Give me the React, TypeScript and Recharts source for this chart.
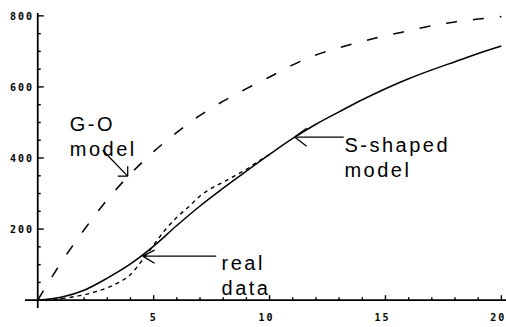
import { LineChart, Line, XAxis, YAxis, ReferenceLine, ReferenceDot } from "recharts";

// model curves, sampled once per time unit
const modelTimes = [0, 1, 2, 3, 4, 5, 6, 7, 8, 9, 10, 11, 12, 13, 14, 15, 16, 17, 18, 19, 20];
const goModel = [0, 105, 198, 283, 355, 418, 472, 520, 560, 595, 628, 662, 690, 710, 728, 744, 758, 772, 783, 791, 798];
const sShaped = [0, 8, 28, 62, 102, 152, 210, 265, 315, 363, 410, 455, 495, 530, 564, 595, 623, 648, 671, 694, 715];

// observed data
const realTimes = [0, 0.5, 1, 1.5, 2, 2.5, 3, 3.5, 4, 4.5, 5, 5.5, 6, 6.5, 7, 7.5, 8, 8.5, 9, 9.5, 10];
const realData = [0, 1, 4, 9, 15, 24, 35, 50, 72, 112, 155, 198, 233, 262, 293, 315, 332, 350, 368, 390, 410];

// every tick gets a mark, only some get a label
const xTicks = [1, 2, 3, 4, 5, 6, 7, 8, 9, 10, 11, 12, 13, 14, 15, 16, 17, 18, 19, 20];
const xLabels = [5, 10, 15, 20];
const yTicks = [50, 100, 150, 200, 250, 300, 350, 400, 450, 500, 550, 600, 650, 700, 750, 800];
const yLabels = [200, 400, 600, 800];

const goRows = modelTimes.map((t, i) => ({ t, v: goModel[i] }));
const sRows = modelTimes.map((t, i) => ({ t, v: sShaped[i] }));
const realRows = realTimes.map((t, i) => ({ t, v: realData[i] }));

const W = 506;
const H = 327;
const M = { top: 13, right: 0, bottom: 0, left: 0 };
const Y_AXIS_W = 25;
const X_AXIS_H = 19;
const X_DOMAIN: [number, number] = [-0.55, 20.2];
const Y_DOMAIN: [number, number] = [-22, 808];
const plotW = W - M.left - M.right - Y_AXIS_W;
const plotH = H - M.top - M.bottom - X_AXIS_H;
// distance from the plot edges to the zero lines, where the axes are drawn
const zeroDx = ((0 - X_DOMAIN[0]) / (X_DOMAIN[1] - X_DOMAIN[0])) * plotW;
const zeroDy = ((0 - Y_DOMAIN[0]) / (Y_DOMAIN[1] - Y_DOMAIN[0])) * plotH;

type Pt = { x: number; y: number };
const arrows: [Pt, Pt][] = [
  [{ x: 2.8, y: 422 }, { x: 3.88, y: 349 }],
  [{ x: 3.45, y: 349 }, { x: 3.88, y: 349 }],
  [{ x: 3.88, y: 377 }, { x: 3.88, y: 349 }],
  [{ x: 13.2, y: 459 }, { x: 11.08, y: 459 }],
  [{ x: 11.6, y: 484 }, { x: 11.08, y: 459 }],
  [{ x: 11.6, y: 433 }, { x: 11.08, y: 459 }],
  [{ x: 7.7, y: 124 }, { x: 4.53, y: 124 }],
  [{ x: 5.04, y: 141 }, { x: 4.53, y: 124 }],
  [{ x: 5.04, y: 104 }, { x: 4.53, y: 124 }],
];

const notes = [
  { x: 1.38, y: 475, lines: ["G-O", "model"] },
  { x: 13.23, y: 416, lines: ["S-shaped", "model"] },
  { x: 7.93, y: 84, lines: ["real", "data"] },
];

const tickFont = { fontFamily: "DejaVu Sans Mono", fontWeight: 700, fontSize: 10, letterSpacing: 2 };

function XTick(props: any) {
  const { x, y, payload } = props;
  const v = payload.value;
  const major = xLabels.includes(v);
  const shift = String(v).length > 1 ? -3 : 0;
  const axisY = y - zeroDy;
  return (
    <g>
      <line x1={x} y1={axisY} x2={x} y2={axisY - (major ? 5 : 3)} stroke="#000" strokeWidth={1.4} />
      {major && (
        <text x={x + shift} y={y + 13} textAnchor="middle" fill="#000" style={tickFont}>
          {v}
        </text>
      )}
    </g>
  );
}

function YTick(props: any) {
  const { x, y, payload } = props;
  const v = payload.value;
  const major = yLabels.includes(v);
  const axisX = x + zeroDx;
  return (
    <g>
      <line x1={axisX} y1={y} x2={axisX + (major ? 6 : 3)} y2={y} stroke="#000" strokeWidth={1.4} />
      {major && (
        <text x={x + 9} y={y + 4} textAnchor="end" fill="#000" style={tickFont}>
          {v}
        </text>
      )}
    </g>
  );
}

function Note(props: any) {
  const { cx, cy, lines } = props;
  return (
    <text
      x={cx}
      y={cy}
      fill="#000"
      style={{ fontFamily: "Liberation Sans, Arial, sans-serif", fontSize: 20, letterSpacing: 2.5 }}
    >
      {lines.map((l: string, i: number) => (
        <tspan key={i} x={cx} dy={i ? 25 : 0}>
          {l}
        </tspan>
      ))}
    </text>
  );
}

export default function App() {
  return (
    <div style={{ position: "absolute", left: 0, top: 0, background: "#fff" }}>
      <LineChart width={W} height={H} margin={M}>
        <XAxis
          type="number"
          dataKey="t"
          domain={X_DOMAIN}
          ticks={xTicks}
          interval={0}
          tick={<XTick />}
          tickLine={false}
          axisLine={false}
          tickSize={0}
          tickMargin={0}
          height={X_AXIS_H}
          allowDataOverflow
        />
        <YAxis
          type="number"
          domain={Y_DOMAIN}
          ticks={yTicks}
          interval={0}
          tick={<YTick />}
          tickLine={false}
          axisLine={false}
          tickSize={0}
          tickMargin={0}
          width={Y_AXIS_W}
          allowDataOverflow
        />
        <ReferenceLine y={0} stroke="#000" strokeWidth={1.8} />
        <ReferenceLine x={0} stroke="#000" strokeWidth={1.8} />
        <Line
          data={goRows}
          dataKey="v"
          type="monotone"
          stroke="#000"
          strokeWidth={1.5}
          strokeDasharray="11 16"
          dot={false}
          isAnimationActive={false}
        />
        <Line
          data={sRows}
          dataKey="v"
          type="monotone"
          stroke="#000"
          strokeWidth={1.5}
          dot={false}
          isAnimationActive={false}
        />
        <Line
          data={realRows}
          dataKey="v"
          type="monotone"
          stroke="#000"
          strokeWidth={1.4}
          strokeDasharray="4 4"
          dot={false}
          isAnimationActive={false}
        />
        {arrows.map((seg, i) => (
          <ReferenceLine key={"a" + i} segment={seg} stroke="#000" strokeWidth={1.3} />
        ))}
        {notes.map((n, i) => (
          <ReferenceDot
            key={"n" + i}
            x={n.x}
            y={n.y}
            r={0}
            shape={(p: any) => <Note {...p} lines={n.lines} />}
          />
        ))}
      </LineChart>
    </div>
  );
}
